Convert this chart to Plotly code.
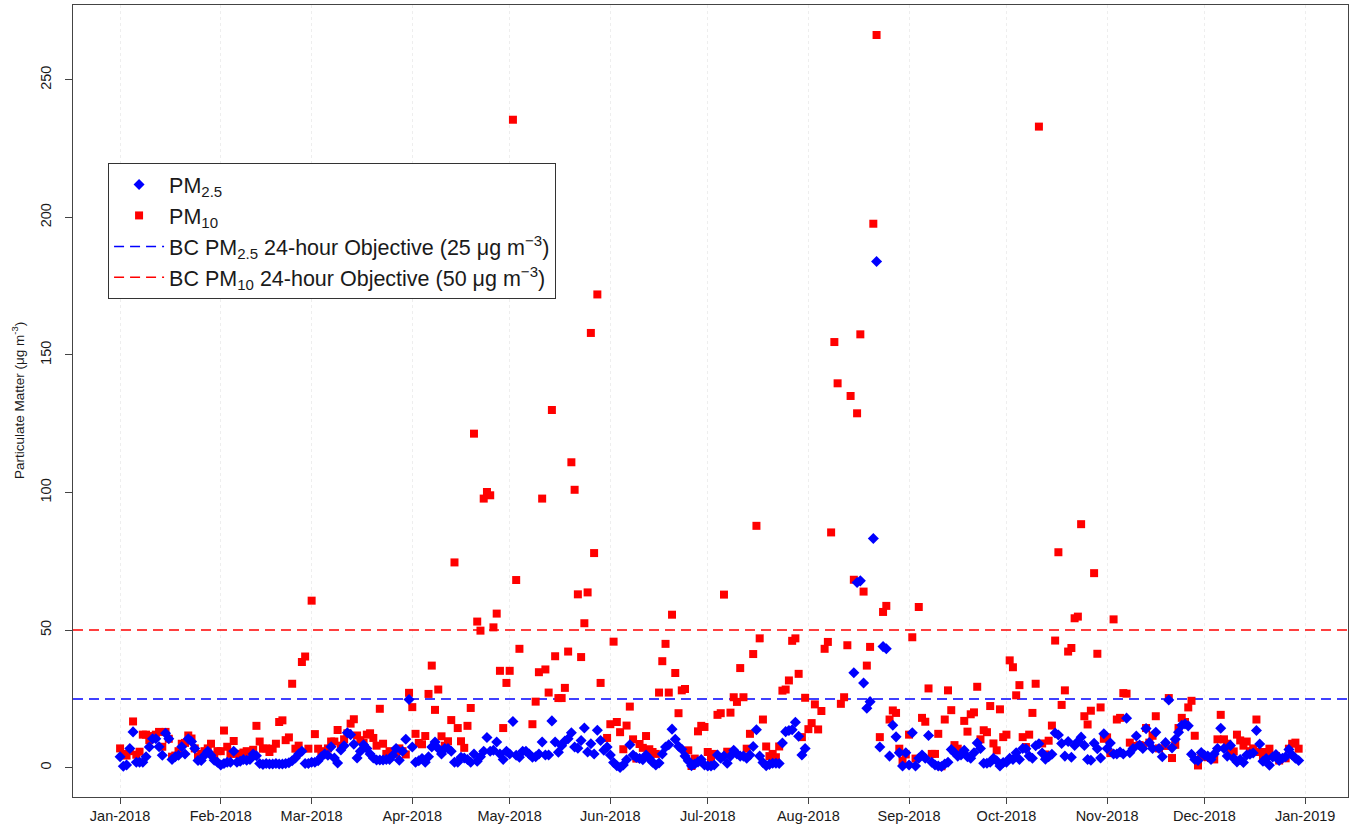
import pandas as pd
import plotly.graph_objects as go

N = None
# ---- PM10 daily values (ug/m3), one list per month ----
pm10_jan = [7, 5, 4.4, 6, 16.8, 4.7, 5.8, 12, 12, 10, 11.5, 12, 13, 7.6, 13, 10.5, 4, 4.4, 6, 8.7,
            9, 11.7, 10.6, 7, 4, 5, 6, 7, 8.7, 4.5, 6]
pm10_feb = [6, 13.5, 7.6, 5, 9.7, 5, 5, 5.5, 6, 5.5, 6.5, 15.2, 9.5, 6.9, 7, 5.7, 6.9, 8.7, 16.6, 17.2,
            10, 11, 30.5, 6.9, 8, 38.4, 40.4, 6.9]
pm10_mar = [60.7, 12.2, 6.9, 6, 5.7, 7, 9.5, 9.5, 13.7, 8, 10.3, 12.5, 16, 17.6, 11.7, 10, 9, 12, 12.5, 10.8,
            8, 21.4, 8.7, 5, 6, 5, 5, 7, 6, 4.8, 27.2]
pm10_apr = [22, 12.3, 9, 8.5, 11.5, 26.8, 37.1, 21, 28.4, 11.4, 8, 9.6, 17.3, 74.6, 14.4, 9.6, 7.2, 15.2, 21.7, 121.4,
            53.1, 49.8, 97.8, 100.2, 99, 51, 56, 35.2, 14.4, 30.8]
pm10_may = [35.2, 235.5, 68.2, 43.2, N, N, N, 15.8, 24, 34.7, 97.8, 35.7, 27.3, 130, 40.5, 25.3, 25.3, 29, 42.2, 111,
            101, 63, 40.2, 52.5, 63.7, 158, 78, 172, 30.8, N, 10.8]
pm10_jun = [15.8, 45.8, 16.6, 12.9, 6.7, 15.3, 22.2, 10.3, 3.3, 8.6, 7.2, 11.5, 6.7, 5.7, 5, 27.3, 38.7, 45, 27.3, 55.6,
            34.4, 19.8, 28.1, 28.6, 6.3, 0.6, 3.3, 13.2, 15.2, 14.8]
pm10_jul = [5.7, 3.3, 5, 19.2, 19.8, 62.9, 5.8, 20, 25.6, 23.9, 36.2, 25.6, 6.9, 12.3, 41.3, 87.9, 47, 17.5, 7.7, 4.2,
            5, 3.8, 7.7, 28, 28.4, 31.7, 46.1, 47, 34.1, 11.1, 25.4]
pm10_aug = [14, 16.2, 23, 13.9, 20.6, 43.2, 45.7, 85.5, 154.7, 139.7, 23.2, 25.6, 44.5, 135.1, 68.3, 128.8, 157.5, 64, 37.1, 43.9,
            197.7, 266.3, 11.1, 56.6, 58.8, 17.5, 20.8, 19.9, 6.9, 2.5, 4.8]
pm10_sep = [12, 47.4, 3.3, 58.4, 18.1, 16.7, 28.8, 5, 5, 12.3, 0.5, 17.5, 28.1, 20.9, 8.2, 6.9, 5, 17, 13.1, 19.4,
            20.1, 29.4, 10.3, 13.6, 12.9, 22.4, 8.8, 6.3, 21.2, 11.1]
pm10_oct = [12, 39, 36.5, 26.3, 30, 11.1, 7.5, 12, 19.9, 30.5, 233, 8.8, 4.8, 9.8, 15.3, 46.2, 78.3, 22.8, 28.1, 42.2,
            43.5, 54.3, 54.9, 88.5, 18.7, 15.7, 20.7, 70.7, 41.4, 21.9, 10.5]
pm10_nov = [11, 5.3, 53.9, 17.5, 18.1, 27.1, 26.9, 9.1, 7.9, N, 8.2, 7.9, 14.4, 9.1, 11.6, 18.7, 7, N, 7.9, 25.3,
            3.5, 8.3, 14.4, 18.1, 16.6, 21.9, 24.3, 11.6, 0.8, 4.2]
pm10_dec = [4, 3.8, 3.5, 3, 10.3, 19.2, 10.3, 8.7, 6.7, 5.9, 12, 9.9, 8, 9.5, 6, 7, 17.5, 5.7, 3.4, 5.7,
            6.9, 4.2, 4.2, 2.6, N, 3.4, 6.9, 8.7, 9.1, 6.9, N]

# ---- PM2.5 daily values (ug/m3) ----
pm25_jan = [4, 0.5, 1, 7, 13, 2, 2, 2, 4, 7.5, 10.5, 10.5, 7.6, 4.5, 12.5, 10.5, 3, 4, 4.5, 7.6,
            5, 10.5, 9.5, 7, 2.6, 2.6, 4.5, 6, 4.5, 2.7, 2]
pm25_feb = [1, 1.5, 2, 2, 6, 2, 2.3, 3, 2.7, 3, 5, 4.3, 1.5, 1.2, 1.5, 1.3, 1.3, 1.5, 1.3, 1.3,
            1.5, 1.8, 2.5, 3.5, 5, 6, 1.5, 1.5]
pm25_mar = [2, 2, 2.5, 4, 5, 4.5, 7.6, 3.5, 1.7, 6.4, 8, 12.7, 12, 8.5, 3.5, 6, 8.3, 7, 5, 3.5,
            2.8, 2.8, 2.8, 3, 3, 4.5, 7, 2.7, 6, 10.3, 24.8]
pm25_apr = [7.5, 2, 2.5, 3.3, 2, 4, 7.5, 9.3, 7, 5, 7, 7, 6, 2, 2, 3.8, 3.5, 3, 2, 5,
            2.3, 4, 6, 11, 6, 6.3, 9.3, 5, 3, 6]
pm25_may = [5, 16.8, 4.5, 3.8, 6, 6, 5, 3.8, 4, 5, 9.3, 4.6, 4.6, 17, 9.3, 5.6, 8, 9.7, 10.5, 12.7,
            7.5, 7.1, 9.9, 14.4, 5.7, 8.7, 5, 13.6, 9.9, 6.3, 7.5]
pm25_jun = [4.6, 1.9, 0.7, 0.1, 1, 2.9, 8.3, 4.6, 3.7, 3.3, 2.9, 4.6, 3.3, 2, 1, 1.7, 5, 7.5, 8.3, 14,
            10.3, 7.8, 6.7, 4.2, 2.5, 0.7, 1.3, 2.1, 3, 1]
pm25_jul = [0.6, 0.6, 1, 4.6, 3.4, 4.2, 1.6, 4.2, 6.3, 5, 4.2, 4.2, 3.4, 4.6, 7.7, 13.8, 4.2, 1.9, 0.7, 1.2,
            1.6, 1.6, 1.5, 9, 13.1, 13.5, 13.8, 16.5, 11.4, 4.6, 7]
pm25_aug = [N, N, N, N, N, N, N, N, N, N, N, N, N, N, 34.5, 67.3, 67.9, 30.8, 21.6, 24,
            83.3, 184, 7.5, 44, 43.2, 4.2, 15.4, 11.2, 5.4, 0.6, 5.4]
pm25_sep = [1, 12.7, 0.6, 3.4, 4.6, 3.4, 11.7, 2, 1, 0.6, 0.4, 1.3, 2, 6.6, 5.4, 4.2, 4.6, 6.3, 4, 3.4,
            5.4, 9, 7, 1.6, 1.6, 2, 3.4, 2.5, 0.6, 1.9]
pm25_oct = [2, 3.4, 3, 5.4, 3, 7, 6.9, 4.2, 3.4, 8, 8.7, 5.3, 3.1, 4, 4.9, 12.6, 11.9, 8.8, 4.2, 9.5,
            3.8, 8.1, 9.5, 11.1, 8.1, 3, 2.7, 8.9, 6.9, 3.5, 12.3]
pm25_nov = [7, 9, 5, 5, 5.7, 5, 18, 5.4, 7, 11.5, 8.2, 7, 14.2, 9.1, 7, 12.9, 7, 4, 9.1, 24.6,
            7.2, 10.3, 12.9, 15.4, 15.9, 15.2, 4.9, 3, 2.6, 5.5]
pm25_dec = [4.5, 4.2, 3, 5, 7, 14.3, 7, 4.2, 8.1, 3.4, 2.1, 3, 1.9, 4.6, 4.9, 5.3, 13.5, 8.6, 2.3, 3.3,
            0.9, 3.9, 4.8, 2.6, 3.4, 4, 6.6, 4.6, 3.4, 2.6, N]

# ---- BC 24-hour objectives ----
objective_pm25 = 25
objective_pm10 = 50

month_ticks = pd.date_range("2018-01-01", "2019-01-01", freq="MS")
month_labels = ["Jan-2018", "Feb-2018", "Mar-2018", "Apr-2018", "May-2018", "Jun-2018", "Jul-2018",
                "Aug-2018", "Sep-2018", "Oct-2018", "Nov-2018", "Dec-2018", "Jan-2019"]
y_ticks = [0, 50, 100, 150, 200, 250]

pm10 = (pm10_jan + pm10_feb + pm10_mar + pm10_apr + pm10_may + pm10_jun +
        pm10_jul + pm10_aug + pm10_sep + pm10_oct + pm10_nov + pm10_dec)
pm25 = (pm25_jan + pm25_feb + pm25_mar + pm25_apr + pm25_may + pm25_jun +
        pm25_jul + pm25_aug + pm25_sep + pm25_oct + pm25_nov + pm25_dec)
dates = pd.date_range("2018-01-01", periods=len(pm10), freq="D")

x_range = [pd.Timestamp("2018-01-01") - pd.Timedelta(days=14.5),
           pd.Timestamp("2018-01-01") + pd.Timedelta(days=378.2)]

FONT = "Liberation Sans, Arial, Helvetica, sans-serif"
TXT = "#1a1a1a"

fig = go.Figure()

# objective lines (drawn across the full x range)
fig.add_trace(go.Scatter(
    x=x_range, y=[objective_pm25] * 2, mode="lines",
    line=dict(color="#0000FF", width=1.5, dash="10px,6px"),
    name="BC PM<sub>2.5</sub> 24-hour Objective (25 \u03bcg m<sup>\u22123</sup>)", legendrank=3))
fig.add_trace(go.Scatter(
    x=x_range, y=[objective_pm10] * 2, mode="lines",
    line=dict(color="#FF0000", width=1.5, dash="10px,6px"),
    name="BC PM<sub>10</sub> 24-hour Objective (50 \u03bcg m<sup>\u22123</sup>)", legendrank=4))

fig.add_trace(go.Scatter(
    x=dates, y=pm10, mode="markers",
    marker=dict(symbol="square", size=8, color="#FF0000", line=dict(width=0)),
    name="PM<sub>10</sub>", legendrank=2))
fig.add_trace(go.Scatter(
    x=dates, y=pm25, mode="markers",
    marker=dict(symbol="diamond", size=8.5, color="#0000FF", line=dict(width=0)),
    name="PM<sub>2.5</sub>", legendrank=1))

fig.update_layout(
    width=1356, height=837,
    margin=dict(l=73, r=8, t=5, b=40),
    paper_bgcolor="white", plot_bgcolor="white",
    font=dict(family=FONT, color=TXT),
    showlegend=True,
    legend=dict(
        x=0.0275, y=0.8005, xanchor="left", yanchor="top",
        bgcolor="white", bordercolor="#333333", borderwidth=1,
        font=dict(size=21.5, family=FONT, color=TXT),
        tracegroupgap=0, itemwidth=50,
    ),
    annotations=[dict(
        text="Particulate Matter (\u03bcg m<sup>-3</sup>)",
        xref="paper", yref="paper", x=-0.0431, y=0.5, textangle=-90,
        showarrow=False, xanchor="center", yanchor="middle",
        font=dict(size=13.5, family=FONT, color=TXT),
    )],
)

fig.update_xaxes(
    type="date", range=x_range, automargin=False,
    tickvals=month_ticks, ticktext=month_labels,
    ticks="outside", ticklen=6, tickcolor="#444444",
    tickfont=dict(size=14.5, family=FONT, color=TXT),
    showline=True, linecolor="#444444", linewidth=1, mirror=True,
    showgrid=True, gridcolor="#eeeeee", griddash="dot", gridwidth=1,
    zeroline=False,
)
fig.update_yaxes(
    range=[-10.66, 277.2], automargin=False,
    tickvals=y_ticks, ticktext=[str(v) for v in y_ticks],
    tickangle=-90, ticklabelstandoff=8,
    ticks="outside", ticklen=7, tickcolor="#444444",
    tickfont=dict(size=14.5, family=FONT, color=TXT),
    showline=True, linecolor="#444444", linewidth=1, mirror=True,
    showgrid=False, zeroline=False,
)

fig.write_html("out.html", config={"displayModeBar": False},
               post_script="document.body.style.margin='0px';")
